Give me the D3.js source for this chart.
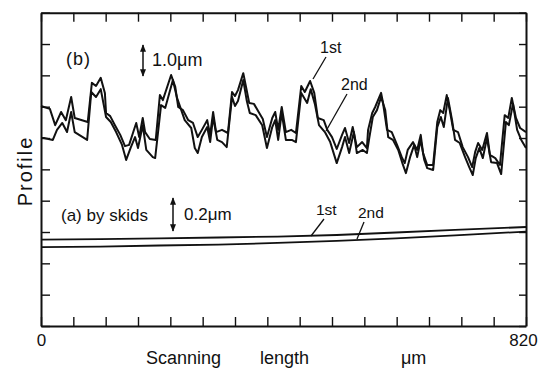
<!DOCTYPE html>
<html><head><meta charset="utf-8">
<script src="https://cdn.jsdelivr.net/npm/d3@7"></script>
<style>
body{margin:0;background:#fff}
text{font-family:"Liberation Sans",Arial,sans-serif;fill:#111}
</style>
</head><body>
<svg id="c" width="549" height="378"></svg>
<script>
// ---- data ----
const xTickLabels = ["0", "820"];
const xMaxUm = 820;
// (b) profile, 1st trace : scanning position (um) and height (um)
const b1X = [0,5,15,24,34,42,51,57,79,86,93,101,108,110,117,125,134,142,149,156,161,166,172,176,184,194,201,206,220,227,232,240,249,257,265,272,281,286,291,296,306,316,323,328,333,342,348,352,360,369,375,382,391,396,401,407,414,423,431,440,446,455,462,468,478,484,492,500,509,514,521,527,534,543,551,553,560,565,575,578,585,593,602,610,615,620,629,636,642,646,653,663,670,675,680,686,691,697,705,713,722,729,734,739,746,754,759,768,776,784,790,796,803,810,820];
const b1Y = [1.02,0.99,0.93,0.41,0.83,0.57,1.31,0.64,0.51,1.76,1.66,1.92,1.44,0.80,0.70,0.41,0.10,-0.26,-0.22,0.19,0.48,0.03,0.64,0.19,-0.03,-0.06,1.37,1.21,2.01,1.63,0.99,0.89,0.57,0.48,0.03,0.26,0.57,0.10,0.83,0.19,0.26,0.16,1.47,1.34,1.53,2.07,1.50,1.12,1.09,0.80,0.61,0.03,0.64,0.83,0.26,0.99,0.19,0.26,0.16,1.66,1.47,1.82,1.44,0.64,0.57,0.26,0.03,-0.35,0.10,0.32,-0.16,0.35,-0.29,-0.13,-0.32,0.26,0.80,0.99,1.44,1.15,0.26,0.19,-0.22,-0.61,-0.80,-0.38,-0.13,-0.38,0.10,-0.48,-0.86,-0.86,0.51,0.89,0.80,1.37,0.89,0.26,0.19,-0.29,-0.61,-0.93,-0.45,-0.16,-0.38,0.16,-0.54,-0.64,-0.86,0.73,0.64,1.28,0.64,0.32,0.19];
// (b) profile, 2nd trace
const b2X = [0,5,20,27,36,44,51,57,78,85,93,101,110,118,127,137,144,152,159,164,172,178,189,193,203,210,223,230,243,254,260,265,272,281,286,291,298,306,314,323,328,333,342,348,353,363,374,382,391,396,401,407,414,424,431,440,450,456,463,470,480,489,500,509,514,521,529,534,544,551,555,561,568,575,582,587,595,604,612,617,624,631,636,642,648,653,663,670,676,681,688,695,700,708,717,724,730,735,741,747,754,761,771,778,786,791,798,805,812,820];
const b2Y = [0.00,0.00,-0.06,0.26,0.48,0.19,0.83,0.19,-0.06,1.47,1.31,1.56,0.67,0.51,0.19,-0.22,-0.70,-0.29,0.03,-0.32,0.41,-0.38,-0.61,-0.64,1.05,0.96,1.85,1.28,0.57,0.32,-0.32,-0.48,0.03,0.35,-0.13,0.67,-0.06,-0.13,-0.29,1.31,1.02,1.18,1.85,1.18,0.80,0.73,0.41,-0.32,0.35,0.57,-0.06,0.80,-0.06,-0.06,-0.13,1.44,1.12,1.56,1.09,0.41,0.19,-0.13,-0.80,-0.29,0.03,-0.48,0.19,-0.48,-0.38,-0.48,0.00,0.67,0.89,1.31,0.89,0.03,-0.06,-0.38,-0.86,-1.12,-0.61,-0.22,-0.61,-0.06,-0.70,-0.96,-1.02,0.35,0.67,0.35,1.28,0.57,-0.06,-0.16,-0.61,-0.93,-1.18,-0.64,-0.32,-0.64,0.00,-0.77,-0.80,-1.15,0.51,0.41,1.09,0.26,-0.06,-0.32];
// (a) profile by skids (um)
const aX  = [0,100,200,300,400,500,600,700,820];
const a1Y = [-0.048,-0.045,-0.040,-0.035,-0.029,-0.019,-0.003,0.013,0.032];
const a2Y = [-0.096,-0.093,-0.086,-0.080,-0.070,-0.057,-0.041,-0.022,0.003];

// ---- layout ----
const L = 41, R = 526, T = 12.7, B = 326;
const svg = d3.select("#c");
const x = d3.scaleLinear().domain([0, xMaxUm]).range([L, R]);
const yTick = d3.scaleLinear().domain([0, 10]).range([B, T]);
const yB = d3.scaleLinear().domain([-6, 4]).range([B, T]);     // 1.0 um per division
const yA = d3.scaleLinear().domain([-0.6, 1.4]).range([B, T]); // 0.2 um per division

const xt = d3.range(16).map(i => i * xMaxUm / 15);
const yt = d3.range(11);

function styleAxis(g){
  g.selectAll("path.domain").attr("stroke","#111").attr("stroke-width",2);
  g.selectAll(".tick line").attr("stroke","#111").attr("stroke-width",1.4);
}
svg.append("g").attr("transform",`translate(0,${B})`)
  .call(d3.axisBottom(x).tickValues(xt).tickSizeInner(-9).tickSizeOuter(0)
    .tickPadding(8).tickFormat(d => d===0 ? xTickLabels[0] : (d===xMaxUm ? xTickLabels[1] : "")))
  .call(styleAxis)
  .call(g => g.selectAll(".tick text").attr("font-size",17).attr("fill","#111")
     .attr("font-family",'"Liberation Sans",Arial,sans-serif')
     .attr("dx", d => d===xMaxUm ? -3 : 0));
svg.append("g").attr("transform",`translate(0,${T})`)
  .call(d3.axisTop(x).tickValues(xt).tickSizeInner(-9).tickSizeOuter(0).tickFormat(""))
  .call(styleAxis);
svg.append("g").attr("transform",`translate(${L},0)`)
  .call(d3.axisLeft(yTick).tickValues(yt).tickSizeInner(-9).tickSizeOuter(0).tickFormat(""))
  .call(styleAxis);
svg.append("g").attr("transform",`translate(${R},0)`)
  .call(d3.axisRight(yTick).tickValues(yt).tickSizeInner(-7).tickSizeOuter(0).tickFormat(""))
  .call(styleAxis);

// ---- profiles ----
const lineB = d3.line().x(d => x(d[0])).y(d => yB(d[1]));
const lineA = d3.line().x(d => x(d[0])).y(d => yA(d[1]));
const zip = (xs, ys) => xs.map((v,i) => [v, ys[i]]);
[[b1X,b1Y],[b2X,b2Y]].forEach(([xs,ys]) => {
  svg.append("path").datum(zip(xs,ys)).attr("d", lineB)
    .attr("fill","none").attr("stroke","#111").attr("stroke-width",2).attr("stroke-linejoin","round");
});
[a1Y,a2Y].forEach(ys => {
  svg.append("path").datum(zip(aX,ys)).attr("d", lineA)
    .attr("fill","none").attr("stroke","#111").attr("stroke-width",1.8);
});

// ---- annotations ----
const defs = svg.append("defs");
defs.append("marker").attr("id","ah").attr("viewBox","0 0 10 10").attr("refX",9).attr("refY",5)
  .attr("markerWidth",5).attr("markerHeight",5).attr("orient","auto-start-reverse")
  .append("path").attr("d","M0,1 L10,5 L0,9 z").attr("fill","#111");
function arrow(xp, y0, y1){
  svg.append("line").attr("x1",xp).attr("x2",xp).attr("y1",y0).attr("y2",y1)
    .attr("stroke","#111").attr("stroke-width",1.5)
    .attr("marker-start","url(#ah)").attr("marker-end","url(#ah)");
}
function txt(xp, yp, s, size, ls){
  svg.append("text").attr("x",xp).attr("y",yp).attr("font-size",size)
    .attr("letter-spacing", ls || 0).text(s);
}
function leader(x1,y1,x2,y2){
  svg.append("line").attr("x1",x1).attr("y1",y1).attr("x2",x2).attr("y2",y2)
    .attr("stroke","#111").attr("stroke-width",1.3);
}
txt(66, 65, "(b)", 18, 1);
arrow(143, 45, 76);
txt(152, 66, "1.0\u03bcm", 18);
txt(320, 53, "1st", 16);
leader(326, 57, 313, 79);
txt(341, 90, "2nd", 16);
leader(347, 94, 326, 131);

txt(61, 221, "(a) by skids", 17);
arrow(173, 198, 231);
txt(184, 220, "0.2\u03bcm", 17);
txt(316, 215, "1st", 15.5);
leader(324, 219, 311, 236);
txt(358, 218, "2nd", 15.5);
leader(364, 222, 357, 239);

// axis titles
svg.append("text").attr("transform","translate(31.5,171) rotate(-90)")
  .attr("text-anchor","middle").attr("font-size",20).attr("letter-spacing",2)
  .attr("font-family",'"DejaVu Sans",sans-serif').text("Profile");
const xTitle = [["Scanning",146],["length",260],["\u03bcm",401]];
xTitle.forEach(([s,xp]) => svg.append("text").attr("x",xp).attr("y",364)
  .attr("font-size",18).attr("font-family",'"DejaVu Sans",sans-serif').text(s));
</script>
</body></html>
